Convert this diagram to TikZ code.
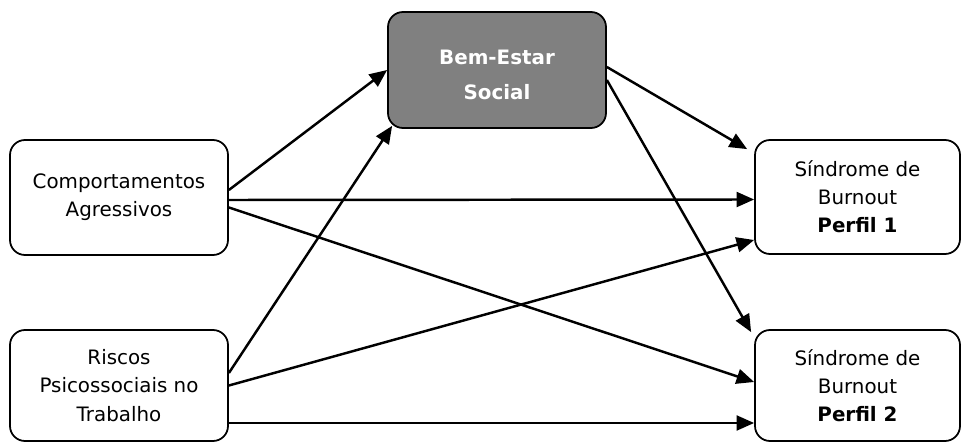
\documentclass[tikz,border=0pt]{standalone}
\usepackage{fontspec}
\setmainfont{DejaVu Sans}
\usetikzlibrary{arrows.meta}
\begin{document}
\begin{tikzpicture}[>={Triangle[length=10pt,width=8.5pt]}, line join=round,
	box/.style={draw, line width=1pt, rounded corners=0.3cm, align=center, inner sep=0pt, font=\fontsize{11.3}{16}\selectfont},
	keybox/.style={box, fill=black!50, text=white, font=\fontsize{11.3}{20}\selectfont\bfseries},
	link/.style={->, line width=1.4pt}]
				\useasboundingbox (0,0) rectangle (19.22,-8.84);
				
				\node[box, minimum width=4.36cm, minimum height=2.3cm] (comp) at (2.38,-3.95) {Comportamentos\\Agressivos};
				\node[box, minimum width=4.36cm, minimum height=2.22cm] (riscos) at (2.38,-7.71) {Riscos\\Psicossociais no\\Trabalho};
				\node[keybox, minimum width=4.36cm, minimum height=2.32cm] (bem) at (9.94,-1.40) {\rule{0pt}{14pt}Bem-Estar\\Social};
				\node[box, minimum width=4.1cm, minimum height=2.28cm] (perfilA) at (17.15,-3.94) {Síndrome de\\Burnout\\\textbf{Perfil 1}};
				\node[box, minimum width=4.1cm, minimum height=2.22cm] (perfilB) at (17.15,-7.71) {Síndrome de\\Burnout\\\textbf{Perfil 2}};
				
				\draw[link] ([yshift=0.15cm]comp.east) -- (bem.west);
				\draw[link] ([yshift=-0.05cm]comp.east) -- ([yshift=-0.05cm]perfilA.west);
				\draw[link] ([yshift=-0.2cm]comp.east) -- ([yshift=0.07cm]perfilB.west);
				
				\draw[link] ([yshift=0.25cm]riscos.east) -- ([xshift=0.1cm,yshift=0.06cm]bem.south west);
				\draw[link] (riscos.east) -- ([yshift=-0.86cm]perfilA.west);
				\draw[link] ([yshift=-0.75cm]riscos.east) -- ([yshift=-0.75cm]perfilB.west);
				
				\draw[link] ([yshift=0.06cm]bem.east) -- ([xshift=-0.14cm,yshift=-0.2cm]perfilA.north west);
				\draw[link] ([yshift=-0.2cm]bem.east) -- ([xshift=-0.06cm,yshift=-0.06cm]perfilB.north west);
\end{tikzpicture}
\end{document}
